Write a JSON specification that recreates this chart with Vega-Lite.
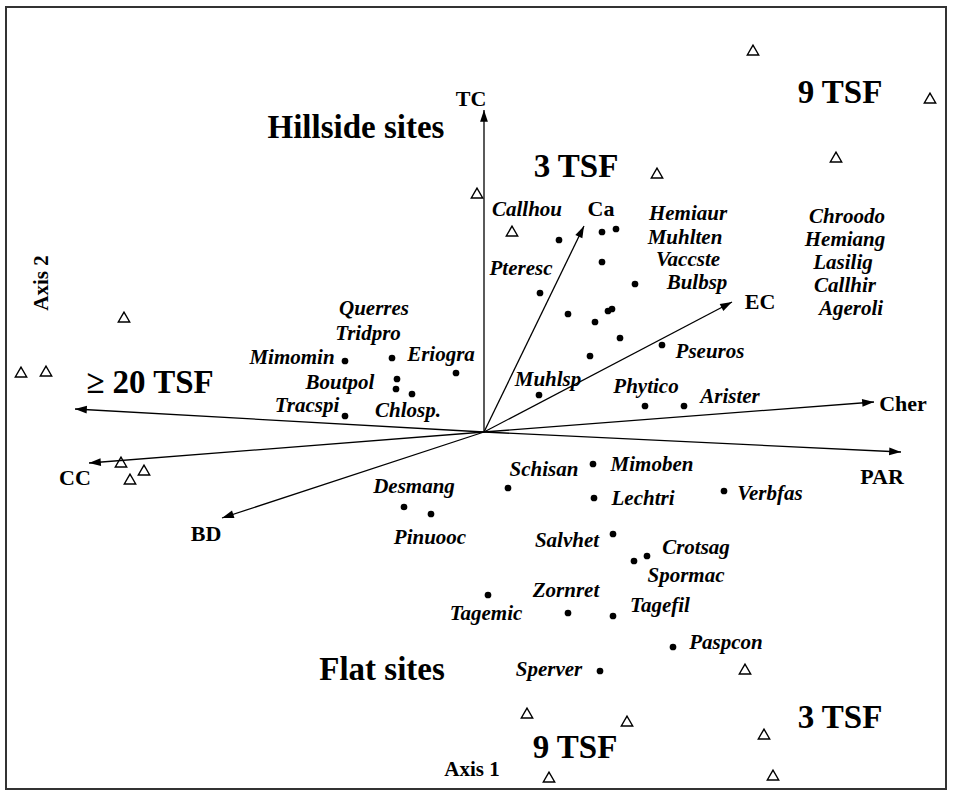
{
  "$schema": "https://vega.github.io/schema/vega-lite/v6.json",
  "width": 940,
  "height": 782,
  "padding": {"left": 6, "top": 7, "right": 11, "bottom": 14},
  "autosize": {"type": "none"},
  "background": "white",
  "config": {"view": {"stroke": "#333333", "strokeWidth": 2}, "font": "Liberation Serif"},
  "datasets": {
    "env": [
      {"var": "TC", "x": 0.0, "y": 3.22},
      {"var": "Ca", "x": 1.0, "y": 2.06},
      {"var": "EC", "x": 2.48, "y": 1.30},
      {"var": "Cher", "x": 3.90, "y": 0.30},
      {"var": "PAR", "x": 4.17, "y": -0.20},
      {"var": "BD", "x": -2.62, "y": -0.86},
      {"var": "CC", "x": -3.95, "y": -0.31},
      {"var": "", "x": -4.09, "y": 0.23}
    ],
    "envLabels": [
      {"label": "TC", "x": -0.13, "y": 3.33},
      {"label": "Ca", "x": 1.17, "y": 2.23},
      {"label": "EC", "x": 2.76, "y": 1.30},
      {"label": "Cher", "x": 4.19, "y": 0.28},
      {"label": "PAR", "x": 3.98, "y": -0.45},
      {"label": "BD", "x": -2.78, "y": -1.02},
      {"label": "CC", "x": -4.09, "y": -0.46}
    ],
    "sites": [
      {"x": 2.69, "y": 3.82}, {"x": 4.46, "y": 3.34}, {"x": 3.52, "y": 2.75},
      {"x": 1.73, "y": 2.59}, {"x": -0.07, "y": 2.39}, {"x": 0.28, "y": 2.01},
      {"x": -3.60, "y": 1.15}, {"x": -4.63, "y": 0.60}, {"x": -4.38, "y": 0.61},
      {"x": -3.63, "y": -0.30}, {"x": -3.40, "y": -0.38}, {"x": -3.54, "y": -0.47},
      {"x": 2.61, "y": -2.37}, {"x": 0.43, "y": -2.81}, {"x": 1.43, "y": -2.89},
      {"x": 2.80, "y": -3.02}, {"x": 0.65, "y": -3.45}, {"x": 2.89, "y": -3.43}
    ],
    "species": [
      {"x": -1.39, "y": 0.71}, {"x": -0.92, "y": 0.74}, {"x": -0.28, "y": 0.59},
      {"x": -0.87, "y": 0.53}, {"x": -0.88, "y": 0.43}, {"x": -0.72, "y": 0.38},
      {"x": -1.39, "y": 0.16}, {"x": 0.75, "y": 1.92}, {"x": 1.18, "y": 2.00},
      {"x": 1.32, "y": 2.03}, {"x": 1.18, "y": 1.70}, {"x": 0.56, "y": 1.39},
      {"x": 1.51, "y": 1.48}, {"x": 0.84, "y": 1.18}, {"x": 1.24, "y": 1.21},
      {"x": 1.28, "y": 1.23}, {"x": 1.11, "y": 1.10}, {"x": 1.36, "y": 0.94},
      {"x": 1.78, "y": 0.87}, {"x": 1.06, "y": 0.76}, {"x": 0.55, "y": 0.37},
      {"x": 1.61, "y": 0.26}, {"x": 2.00, "y": 0.26}, {"x": 1.09, "y": -0.32},
      {"x": 0.24, "y": -0.56}, {"x": 1.10, "y": -0.66}, {"x": 2.40, "y": -0.59},
      {"x": 1.29, "y": -1.02}, {"x": 1.50, "y": -1.29}, {"x": 1.63, "y": -1.24},
      {"x": 0.04, "y": -1.63}, {"x": 0.84, "y": -1.81}, {"x": 1.29, "y": -1.84},
      {"x": 1.89, "y": -2.15}, {"x": 1.16, "y": -2.39}, {"x": -0.80, "y": -0.75},
      {"x": -0.53, "y": -0.82}
    ],
    "speciesLabels": [
      {"label": "Callhou", "x": 0.43, "y": 2.22},
      {"label": "Hemiaur", "x": 2.04, "y": 2.18},
      {"label": "Muhlten", "x": 2.01, "y": 1.94},
      {"label": "Vaccste", "x": 2.04, "y": 1.72},
      {"label": "Bulbsp", "x": 2.13, "y": 1.49},
      {"label": "Chroodo", "x": 3.63, "y": 2.15},
      {"label": "Hemiang", "x": 3.61, "y": 1.92},
      {"label": "Lasilig", "x": 3.59, "y": 1.69},
      {"label": "Callhir", "x": 3.61, "y": 1.465},
      {"label": "Ageroli", "x": 3.67, "y": 1.235},
      {"label": "Pteresc", "x": 0.37, "y": 1.63},
      {"label": "Querres", "x": -1.10, "y": 1.23},
      {"label": "Tridpro", "x": -1.16, "y": 0.98},
      {"label": "Mimomin", "x": -1.92, "y": 0.74},
      {"label": "Eriogra", "x": -0.43, "y": 0.77},
      {"label": "Boutpol", "x": -1.44, "y": 0.49},
      {"label": "Tracspi", "x": -1.77, "y": 0.26},
      {"label": "Chlosp.", "x": -0.76, "y": 0.21},
      {"label": "Muhlsp", "x": 0.64, "y": 0.52},
      {"label": "Pseuros", "x": 2.26, "y": 0.80},
      {"label": "Phytico", "x": 1.62, "y": 0.45},
      {"label": "Arister", "x": 2.46, "y": 0.35},
      {"label": "Schisan", "x": 0.60, "y": -0.38},
      {"label": "Mimoben", "x": 1.68, "y": -0.33},
      {"label": "Lechtri", "x": 1.59, "y": -0.67},
      {"label": "Verbfas", "x": 2.86, "y": -0.62},
      {"label": "Desmang", "x": -0.70, "y": -0.55},
      {"label": "Pinuooc", "x": -0.54, "y": -1.06},
      {"label": "Salvhet", "x": 0.83, "y": -1.09},
      {"label": "Crotsag", "x": 2.12, "y": -1.16},
      {"label": "Spormac", "x": 2.02, "y": -1.44},
      {"label": "Zornret", "x": 0.82, "y": -1.59},
      {"label": "Tagemic", "x": 0.02, "y": -1.82},
      {"label": "Tagefil", "x": 1.76, "y": -1.74},
      {"label": "Paspcon", "x": 2.42, "y": -2.11},
      {"label": "Sperver", "x": 0.65, "y": -2.38}
    ],
    "groups": [
      {"label": "Hillside sites", "x": -1.28, "y": 3.04},
      {"label": "3 TSF", "x": 0.92, "y": 2.65},
      {"label": "9 TSF", "x": 3.56, "y": 3.39},
      {"label": "≥ 20 TSF", "x": -3.34, "y": 0.49},
      {"label": "Flat sites", "x": -1.02, "y": -2.38},
      {"label": "9 TSF", "x": 0.91, "y": -3.16},
      {"label": "3 TSF", "x": 3.56, "y": -2.86}
    ],
    "axisY": [{"label": "Axis 2", "x": -4.42, "y": 1.49}],
    "axisX": [{"label": "Axis 1", "x": -0.12, "y": -3.38}]
  },
  "encoding": {
    "x": {"field": "x", "type": "quantitative", "axis": null, "scale": {"domain": [-4.78, 4.62], "nice": false, "zero": false}},
    "y": {"field": "y", "type": "quantitative", "axis": null, "scale": {"domain": [-3.57, 4.25], "nice": false, "zero": false}}
  },
  "layer": [
    {
      "data": {"name": "env"},
      "mark": {"type": "rule", "color": "black", "strokeWidth": 1.3},
      "encoding": {"x2": {"datum": 0}, "y2": {"datum": 0}}
    },
    {
      "data": {"name": "env"},
      "transform": [{"calculate": "atan2(datum.x, datum.y) * 180 / PI", "as": "ang"}],
      "mark": {"type": "point", "shape": "M0,0L-0.33,1L0.33,1Z", "filled": true, "color": "black", "opacity": 1, "size": 560},
      "encoding": {"angle": {"field": "ang", "type": "quantitative", "scale": null}}
    },
    {
      "data": {"name": "envLabels"},
      "mark": {"type": "text", "font": "Liberation Serif", "fontWeight": "bold", "fontSize": 22, "baseline": "middle", "align": "center", "color": "black"},
      "encoding": {"text": {"field": "label"}}
    },
    {
      "data": {"name": "sites"},
      "mark": {"type": "point", "shape": "triangle-up", "filled": false, "stroke": "black", "strokeWidth": 1.4, "opacity": 1, "size": 130}
    },
    {
      "data": {"name": "species"},
      "mark": {"type": "point", "shape": "circle", "filled": true, "color": "black", "opacity": 1, "size": 45}
    },
    {
      "data": {"name": "speciesLabels"},
      "mark": {"type": "text", "font": "Liberation Serif", "fontWeight": "bold", "fontStyle": "italic", "fontSize": 21, "baseline": "middle", "align": "center", "color": "black"},
      "encoding": {"text": {"field": "label"}}
    },
    {
      "data": {"name": "groups"},
      "mark": {"type": "text", "font": "Liberation Serif", "fontWeight": "bold", "fontSize": 33, "baseline": "middle", "align": "center", "color": "black"},
      "encoding": {"text": {"field": "label"}}
    },
    {
      "data": {"name": "axisY"},
      "mark": {"type": "text", "font": "Liberation Serif", "fontWeight": "bold", "fontSize": 21, "baseline": "middle", "align": "center", "angle": 270, "color": "black"},
      "encoding": {"text": {"field": "label"}}
    },
    {
      "data": {"name": "axisX"},
      "mark": {"type": "text", "font": "Liberation Serif", "fontWeight": "bold", "fontSize": 21, "baseline": "middle", "align": "center", "color": "black"},
      "encoding": {"text": {"field": "label"}}
    }
  ]
}
